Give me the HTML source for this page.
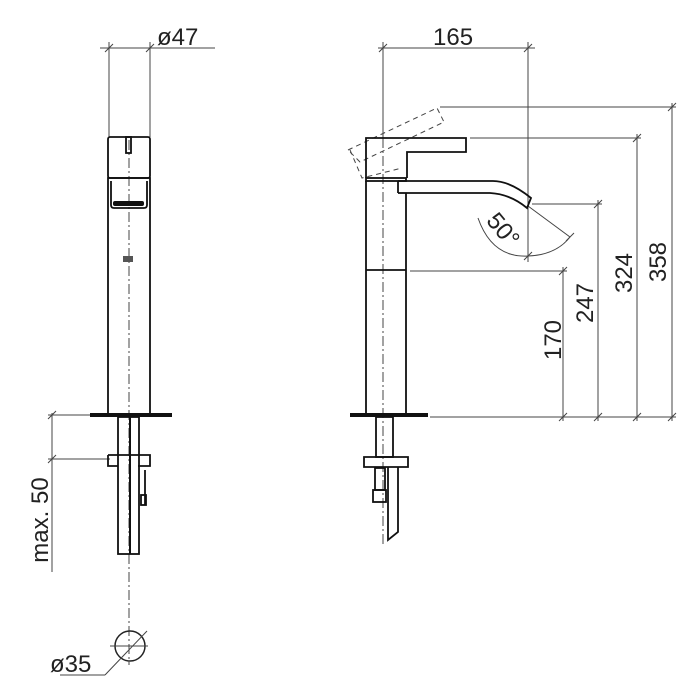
<!DOCTYPE html>
<html><head><meta charset="utf-8"><style>html,body{margin:0;padding:0;background:#fff}svg{display:block}</style></head>
<body>
<svg width="700" height="700" viewBox="0 0 700 700" xmlns="http://www.w3.org/2000/svg" font-family="Liberation Sans, sans-serif">
<g stroke="#444" stroke-width="1" fill="none">
<!-- LEFT VIEW dims -->
<line x1="100" y1="48" x2="215" y2="48"/>
<line x1="109" y1="42" x2="109" y2="137"/>
<line x1="150" y1="42" x2="150" y2="137"/>
<line x1="105" y1="52" x2="113" y2="44"/><line x1="146" y1="52" x2="154" y2="44"/>
<!-- max 50 -->
<line x1="52" y1="413" x2="52" y2="572"/>
<line x1="48" y1="415" x2="108" y2="415"/>
<line x1="48" y1="459" x2="110" y2="459"/>
<line x1="48" y1="419" x2="56" y2="411"/><line x1="48" y1="463" x2="56" y2="455"/>
<!-- centerline left -->
<line x1="129" y1="140" x2="129" y2="665" stroke-dasharray="10,3,2,3"/>
<!-- RIGHT VIEW dims -->
<line x1="378" y1="48" x2="535" y2="48"/>
<line x1="383" y1="42" x2="383" y2="138"/>
<line x1="528" y1="42" x2="528" y2="262"/>
<line x1="379" y1="52" x2="387" y2="44"/><line x1="524" y1="52" x2="532" y2="44"/>
<line x1="383" y1="138" x2="383" y2="545" stroke-dasharray="10,3,2,3"/>
<line x1="440" y1="107" x2="676" y2="107"/>
<line x1="470" y1="138" x2="641" y2="138"/>
<line x1="532" y1="204" x2="602" y2="204"/>
<line x1="410" y1="271" x2="567" y2="271"/>
<line x1="430" y1="417" x2="676" y2="417"/>
<line x1="672" y1="103" x2="672" y2="421"/>
<line x1="637" y1="134" x2="637" y2="421"/>
<line x1="598" y1="200" x2="598" y2="421"/>
<line x1="563" y1="267" x2="563" y2="421"/>
<g>
<line x1="668" y1="111" x2="676" y2="103"/><line x1="668" y1="421" x2="676" y2="413"/>
<line x1="633" y1="142" x2="641" y2="134"/><line x1="633" y1="421" x2="641" y2="413"/>
<line x1="594" y1="208" x2="602" y2="200"/><line x1="594" y1="421" x2="602" y2="413"/>
<line x1="559" y1="275" x2="567" y2="267"/><line x1="559" y1="421" x2="567" y2="413"/>
</g>
<!-- angle -->
<line x1="528" y1="206" x2="570" y2="237"/>
<path d="M478,218 Q492,258 528,256 Q556,255 570,237"/>
<line x1="524" y1="260" x2="532" y2="252"/><line x1="566" y1="241" x2="574" y2="233"/>
<!-- dashed alt lever -->
<g stroke-dasharray="5,4">
<path d="M348,150 L437,108 L444,122 L360,162 Z"/>
<path d="M350,150 L362,178 L402,168"/>
</g>
<!-- phi35 -->
<circle cx="130" cy="646" r="15" stroke="#222" stroke-width="1.5"/>
<line x1="60" y1="675" x2="105" y2="675"/>
<line x1="105" y1="675" x2="147" y2="631"/>
<line x1="110" y1="646" x2="148" y2="646"/>
</g>
<!-- LEFT tap body -->
<g stroke="#111" stroke-width="1.8" fill="none">
<rect x="108" y="137" width="42" height="41" rx="2"/>
<rect x="126" y="137" width="5" height="16"/>
<rect x="108" y="178" width="42" height="236"/>
<path d="M111,181 V205 Q111,208 114,208 H144 Q147,208 147,205 V181"/>
<rect x="118" y="417" width="21" height="137"/>
<path d="M108,455 H150 V466 H138 M108,455 V466 H118"/>
<line x1="145" y1="470" x2="145" y2="505"/><rect x="141" y="495" width="5" height="10"/>
</g>
<rect x="113" y="201" width="31" height="5" rx="2" fill="#111"/>
<rect x="123" y="256" width="10" height="6" fill="#555"/>
<rect x="90" y="413" width="82" height="4" fill="#111"/>
<line x1="130" y1="417" x2="130" y2="554" stroke="#111" stroke-width="2"/>
<!-- RIGHT tap -->
<g stroke="#111" stroke-width="1.8" fill="none">
<path d="M366,178 V138 H466 V152 H407 V178"/>
<rect x="366" y="178" width="40" height="3"/>
<path d="M398,181 H493 Q510,181 531,198 L527,208 Q510,194 490,193 H407"/>
<line x1="398" y1="181" x2="398" y2="193"/><line x1="398" y1="193" x2="407" y2="193"/>
<path d="M366,181 V414 M406,193 V414"/>
<line x1="366" y1="270" x2="406" y2="270"/>
<rect x="376" y="417" width="17" height="40"/>
<path d="M364,457 H408 V467 H364 Z"/>
<rect x="375" y="468" width="10" height="22"/><rect x="373" y="490" width="13" height="12"/>
<path d="M388,467 V540 L398,532 V467"/>
</g>
<rect x="350" y="413" width="78" height="4" fill="#111"/>
<!-- text -->
<g fill="#222" font-size="24">
<text x="157" y="45">ø47</text>
<text x="433" y="45">165</text>
<text x="50" y="672">ø35</text>
<text transform="translate(48,520) rotate(-90)" text-anchor="middle">max. 50</text>
<text transform="translate(666,262) rotate(-90)" text-anchor="middle">358</text>
<text transform="translate(632,273) rotate(-90)" text-anchor="middle">324</text>
<text transform="translate(593,303) rotate(-90)" text-anchor="middle">247</text>
<text transform="translate(561,340) rotate(-90)" text-anchor="middle">170</text>
<text transform="translate(497,235) rotate(50)" text-anchor="middle">50°</text>
</g>
</svg>
</body></html>
